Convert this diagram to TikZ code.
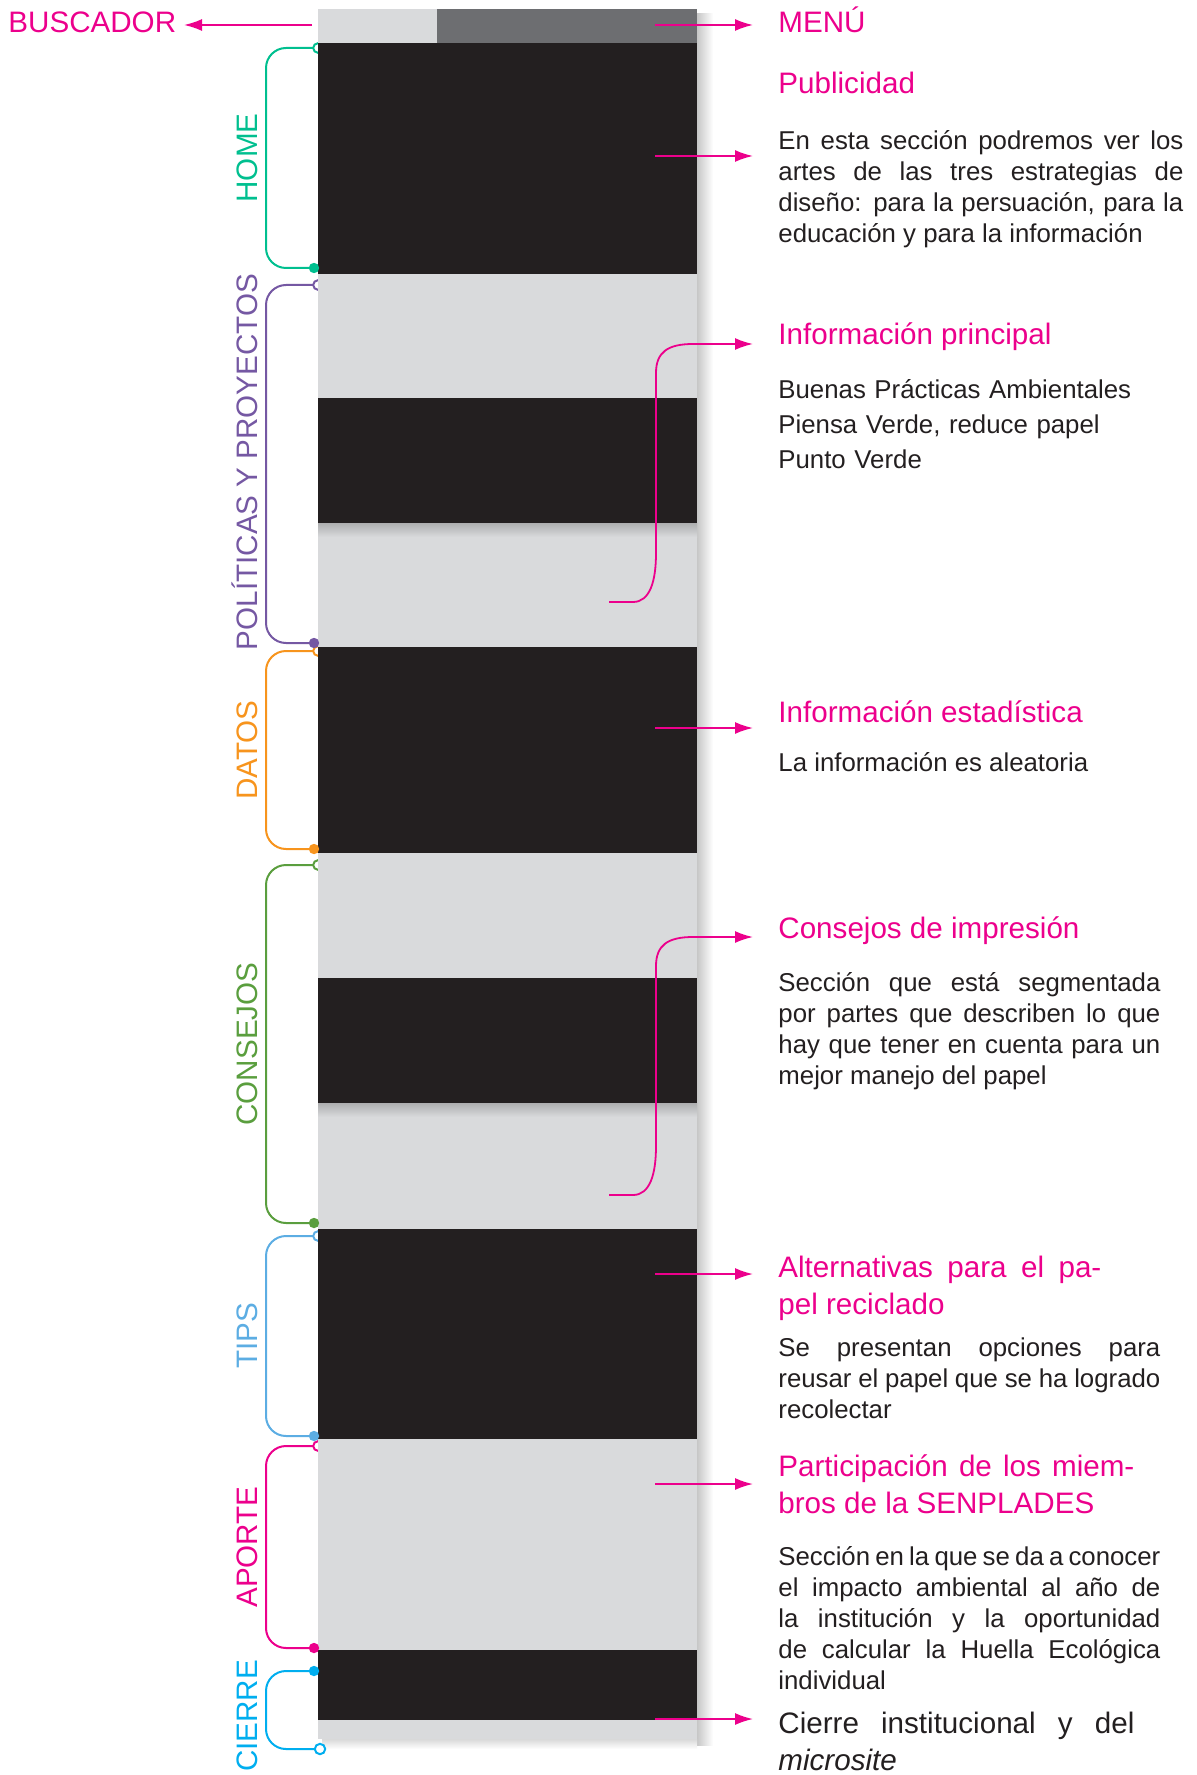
\documentclass[tikz,border=0pt]{standalone}
\usepackage{fontspec}
\setmainfont{Liberation Sans}
\usepackage{tikz}
\usetikzlibrary{arrows.meta, positioning, calc}
\definecolor{senmag}{HTML}{EC008C}
\definecolor{senink}{HTML}{231F20}
\definecolor{senpale}{HTML}{D9DADC}
\definecolor{senmenu}{HTML}{6D6E71}
\definecolor{homegreen}{HTML}{00BF8F}
\definecolor{polpurple}{HTML}{7558A3}
\definecolor{datorange}{HTML}{F7941D}
\definecolor{consgreen}{HTML}{5A9E3E}
\definecolor{tipsblue}{HTML}{5CADE3}
\definecolor{cierrecyan}{HTML}{00AEEF}
\newcommand{\hdfont}{\fontsize{14.8}{18.5}\selectfont}
\newcommand{\txfont}{\fontsize{12.9}{15.5}\selectfont\spaceskip=0.278em plus 0.2em minus 0.12em\relax}
\newcommand{\brklist}{48/268/homegreen/158/HOME, 285/643/polpurple/462/POLÍTICAS Y PROYECTOS, 651/849/datorange/750/DATOS, 865/1223/consgreen/1044/CONSEJOS, 1236/1436/tipsblue/1336/TIPS, 1446/1648/senmag/1547/APORTE}

\begin{document}
\begin{tikzpicture}[x=0.5pt, y=-0.5pt,
    bracket/.style={draw=#1, line width=1pt, rounded corners=10pt},
    tag/.style={rotate=90, anchor=base, inner sep=0pt, font=\hdfont, text=#1},
    head/.style={anchor=base west, inner sep=0pt, font=\hdfont, text=senmag},
    body/.style={anchor=base west, inner sep=0pt, font=\txfont, text=senink,
                 text width=#1, align=justify},
    body/.default=191pt,
    link/.style={senmag, line width=0.9pt, -{Latex[length=9pt, width=6pt]}},
]
    \useasboundingbox (0,0) rectangle (1196,1775);

    % brackets (behind the column)
    \foreach \ytop/\ybot/\clr/\ylab/\lbl in \brklist {
        \draw[bracket=\clr] (318,\ytop) -- (266,\ytop) -- (266,\ybot) -- (314,\ybot);
        \draw[\clr, line width=1pt, fill=white] (318,\ytop) circle (2.4pt);
    }
    \draw[bracket=cierrecyan] (314,1671) -- (266,1671) -- (266,1749) -- (316,1749);

    % column
    \shade[left color=black!22, right color=white] (697,14) rectangle (713,1745);
    \shade[top color=black!15, bottom color=white] (322,1739) rectangle (697,1749);
    \fill[senpale] (318,9) rectangle (697,1739);
    \fill[senmenu] (437,9) rectangle (697,43);
    \foreach \ya/\yb in {43/274, 398/523, 647/853, 978/1103, 1229/1439, 1650/1720}
        \fill[senink] (318,\ya) rectangle (697,\yb);
    \foreach \ya in {523, 1103}
        \shade[top color=senpale!80!black, bottom color=senpale] (318,\ya) rectangle (697,\ya+14);

    % dots and section labels
    \foreach \ytop/\ybot/\clr/\ylab/\lbl in \brklist {
        \fill[\clr] (314,\ybot) circle (2.6pt);
        \node[tag=\clr] (sec\ytop) at (257,\ylab) {\lbl};
    }
    \fill[cierrecyan] (314,1671) circle (2.6pt);
    \draw[cierrecyan, line width=1pt, fill=white] (320,1749) circle (2.6pt);
    \node[tag=cierrecyan] (sec1671) at (257,1716) {CIERRE};

    % texts
    \node[head] (buscador) at (8,33) {BUSCADOR};
    \node[head] (menu) at (778,33) {MENÚ};
    \node[head] (pub) at (778,94) {Publicidad};
    \node[body=202.5pt] (pubtx) at (778,150) {En esta sección podremos ver los\linebreak
        artes de las tres estrategias de\linebreak diseño: para la persuación, para la\linebreak
        educación y para la información};
    \node[head] (prin) at (778,345) {Información principal};
    \node[anchor=base west, inner sep=0pt, font=\fontsize{12.9}{17.5}\selectfont, text=senink,
          text width=191pt, align=left] (printx) at (778,399)
        {Buenas Prácticas Ambientales\\Piensa Verde, reduce papel\\Punto Verde};
    \node[head] (est) at (778,722) {Información estadística};
    \node[body] (esttx) at (778,771) {La información es aleatoria};
    \node[head] (cons) at (778,938) {Consejos de impresión};
    \node[body] (constx) at (778,991) {Sección que está segmentada\linebreak
        por partes que describen lo que\linebreak hay que tener en cuenta para un\linebreak
        mejor manejo del papel};
    \node[head, text width=161.5pt, align=justify] (alt) at (778,1277)
        {Alternativas para el pa-\linebreak pel reciclado};
    \node[body] (alttx) at (778,1356) {Se presentan opciones para\linebreak
        reusar el papel que se ha logrado\linebreak recolectar};
    \node[head, text width=178pt, align=justify] (part) at (778,1476)
        {Participación de los miem-\linebreak bros de la SENPLADES};
    \node[body] (parttx) at (778,1565) {Sección en la que se da a conocer\linebreak
        el impacto ambiental al año de\linebreak la institución y la oportunidad\linebreak
        de calcular la Huella Ecológica\linebreak individual};
    \node[head, text=senink, text width=178pt, align=justify] (cier) at (778,1733)
        {Cierre institucional y del\linebreak \textit{microsite}};

    % arrows
    \coordinate (buscador-s) at (312,25);
    \coordinate (buscador-e) at (184,25);
    \draw[link] (buscador-s) -- (buscador-e);
    \foreach \nm/\yy in {menu/25, pub/156, est/728, alt/1274, part/1484, cier/1719} {
        \coordinate (\nm-s) at (655,\yy);
        \coordinate (\nm-e) at (753,\yy);
        \draw[link] (\nm-s) -- (\nm-e);
    }
    \foreach \nm/\dy in {prin/0, cons/593} {
        \coordinate (\nm-s) at (609,602+\dy);
        \coordinate (\nm-e) at (753,344+\dy);
        \draw[link] (\nm-s) -- (633,602+\dy) .. controls (650,602+\dy) and (656,581+\dy) .. (656,553+\dy)
            -- (656,373+\dy) .. controls (656,352+\dy) and (668,344+\dy) .. (693,344+\dy) -- (\nm-e);
    }
\end{tikzpicture}
\end{document}
